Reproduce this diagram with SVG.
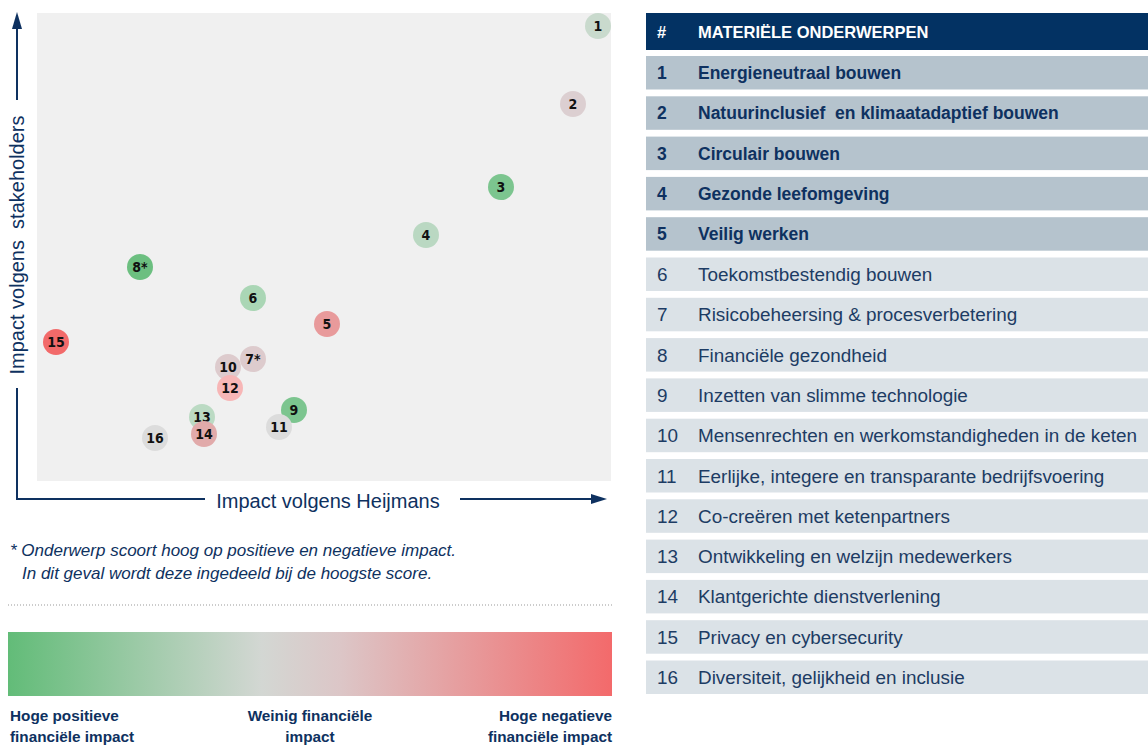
<svg xmlns="http://www.w3.org/2000/svg" width="1148" height="745" viewBox="0 0 1148 745">
<defs>
<linearGradient id="fin" x1="0" y1="0" x2="1" y2="0">
<stop offset="0" stop-color="#62bc78"/>
<stop offset="0.42" stop-color="#d3d7d3"/>
<stop offset="0.55" stop-color="#dcc6c7"/>
<stop offset="1" stop-color="#f36a6b"/>
</linearGradient>
</defs>
<style>
.ax{stroke:#0e3160;stroke-width:2;fill:none}
.ah{fill:#0e3160}
.axt{font-family:"Liberation Sans",Arial,sans-serif;font-size:20px;fill:#0e3160}
.bl{font-family:"DejaVu Sans Condensed","Liberation Sans",sans-serif;font-weight:bold;font-size:14px;fill:#111;text-anchor:middle}
.note{font-family:"Liberation Sans",Arial,sans-serif;font-style:italic;font-size:17px;fill:#0e3160}
.leg{font-family:"Liberation Sans",Arial,sans-serif;font-weight:bold;font-size:15.3px;fill:#0e3160}
.hd{fill:#033263}
.hdt{font-family:"Liberation Sans",Arial,sans-serif;font-weight:bold;font-size:16.5px;fill:#ffffff}
.rb{fill:#b5c3cd}
.rl{fill:#dbe2e7}
.tb{font-family:"Liberation Sans",Arial,sans-serif;font-weight:bold;font-size:17.5px;fill:#0e3160}
.tl{font-family:"Liberation Sans",Arial,sans-serif;font-size:18.9px;fill:#1d3c64}
</style>
<rect x="37" y="13" width="574" height="468" fill="#f0f0f0"/>
<g id="connectors">
<line class="ax" x1="17" y1="100" x2="17" y2="26"/>
<path class="ah" d="M17,12 L22,29 L12,29 z"/>
<polyline class="ax" points="17,388 17,499 205,499"/>
<line class="ax" x1="460" y1="499" x2="594" y2="499"/>
<path class="ah" d="M607,499 L591,504 L591,494 z"/>
</g>
<text class="axt" transform="translate(24,245) rotate(-90)" text-anchor="middle" xml:space="preserve">Impact volgens  stakeholders</text>
<text class="axt" x="328" y="508" text-anchor="middle">Impact volgens Heijmans</text>
<g id="n1"><circle cx="598" cy="26" r="13" fill="#c9dacd"/><text class="bl" x="598" y="31">1</text></g>
<g id="n2"><circle cx="573" cy="104" r="13" fill="#dccfd1"/><text class="bl" x="573" y="109">2</text></g>
<g id="n3"><circle cx="501" cy="187" r="13" fill="#7cc58f"/><text class="bl" x="501" y="192">3</text></g>
<g id="n4"><circle cx="426" cy="235" r="13" fill="#bad8c2"/><text class="bl" x="426" y="240">4</text></g>
<g id="n8"><circle cx="140" cy="267" r="13" fill="#6cbf80"/><text class="bl" x="140" y="272">8*</text></g>
<g id="n6"><circle cx="253" cy="298" r="13" fill="#aad6b5"/><text class="bl" x="253" y="303">6</text></g>
<g id="n5"><circle cx="327" cy="324" r="13" fill="#e89a9b"/><text class="bl" x="327" y="329">5</text></g>
<g id="n15"><circle cx="56" cy="342" r="13" fill="#f26a6a"/><text class="bl" x="56" y="347">15</text></g>
<g id="n7"><circle cx="253" cy="359" r="13" fill="#ddcbcd"/><text class="bl" x="253" y="364">7*</text></g>
<g id="n10"><circle cx="228" cy="367" r="13" fill="#ddcbcd"/><text class="bl" x="228" y="372">10</text></g>
<g id="n12"><circle cx="230" cy="388" r="13" fill="#f7b6b6"/><text class="bl" x="230" y="393">12</text></g>
<g id="n13"><circle cx="202" cy="417" r="13" fill="#bbdac3"/><text class="bl" x="202" y="422">13</text></g>
<g id="n9"><circle cx="294" cy="410" r="13" fill="#7cc58f"/><text class="bl" x="294" y="415">9</text></g>
<g id="n14"><circle cx="204" cy="434" r="13" fill="#e1aaaa"/><text class="bl" x="204" y="439">14</text></g>
<g id="n11"><circle cx="279" cy="427" r="13" fill="#dcdcdc"/><text class="bl" x="279" y="432">11</text></g>
<g id="n16"><circle cx="155" cy="438" r="13" fill="#dcdcdc"/><text class="bl" x="155" y="443">16</text></g>
<text class="note" x="10" y="556">* Onderwerp scoort hoog op positieve en negatieve impact.</text>
<text class="note" x="22" y="579">In dit geval wordt deze ingedeeld bij de hoogste score.</text>
<line x1="8" y1="605" x2="612" y2="605" stroke="#999" stroke-width="1" stroke-dasharray="1,2"/>
<rect x="8" y="632" width="604" height="64" fill="url(#fin)"/>
<text class="leg" x="10" y="721">Hoge positieve</text>
<text class="leg" x="10" y="742">financiële impact</text>
<text class="leg" x="310" y="721" text-anchor="middle">Weinig financiële</text>
<text class="leg" x="310" y="742" text-anchor="middle">impact</text>
<text class="leg" x="612" y="721" text-anchor="end">Hoge negatieve</text>
<text class="leg" x="612" y="742" text-anchor="end">financiële impact</text>
<g id="table">
<rect class="hd" x="646" y="13" width="502" height="37"/>
<text class="hdt" x="657" y="38">#</text>
<text class="hdt" x="698" y="38">MATERIËLE ONDERWERPEN</text>
<rect class="rb" x="646" y="56" width="502" height="33.5"/><text class="tb" x="657" y="79">1</text><text class="tb" x="698" y="79">Energieneutraal bouwen</text>
<rect class="rb" x="646" y="96.3" width="502" height="33.5"/><text class="tb" x="657" y="119.3">2</text><text class="tb" x="698" y="119.3" xml:space="preserve">Natuurinclusief  en klimaatadaptief bouwen</text>
<rect class="rb" x="646" y="136.6" width="502" height="33.5"/><text class="tb" x="657" y="159.6">3</text><text class="tb" x="698" y="159.6">Circulair bouwen</text>
<rect class="rb" x="646" y="176.9" width="502" height="33.5"/><text class="tb" x="657" y="199.9">4</text><text class="tb" x="698" y="199.9">Gezonde leefomgeving</text>
<rect class="rb" x="646" y="217.2" width="502" height="33.5"/><text class="tb" x="657" y="240.2">5</text><text class="tb" x="698" y="240.2">Veilig werken</text>
<rect class="rl" x="646" y="257.5" width="502" height="33.5"/><text class="tl" x="657" y="281">6</text><text class="tl" x="698" y="281">Toekomstbestendig bouwen</text>
<rect class="rl" x="646" y="297.8" width="502" height="33.5"/><text class="tl" x="657" y="321.3">7</text><text class="tl" x="698" y="321.3">Risicobeheersing &amp; procesverbetering</text>
<rect class="rl" x="646" y="338.1" width="502" height="33.5"/><text class="tl" x="657" y="361.6">8</text><text class="tl" x="698" y="361.6">Financiële gezondheid</text>
<rect class="rl" x="646" y="378.4" width="502" height="33.5"/><text class="tl" x="657" y="401.9">9</text><text class="tl" x="698" y="401.9">Inzetten van slimme technologie</text>
<rect class="rl" x="646" y="418.7" width="502" height="33.5"/><text class="tl" x="657" y="442.2">10</text><text class="tl" x="698" y="442.2">Mensenrechten en werkomstandigheden in de keten</text>
<rect class="rl" x="646" y="459" width="502" height="33.5"/><text class="tl" x="657" y="482.5">11</text><text class="tl" x="698" y="482.5">Eerlijke, integere en transparante bedrijfsvoering</text>
<rect class="rl" x="646" y="499.3" width="502" height="33.5"/><text class="tl" x="657" y="522.8">12</text><text class="tl" x="698" y="522.8">Co-creëren met ketenpartners</text>
<rect class="rl" x="646" y="539.6" width="502" height="33.5"/><text class="tl" x="657" y="563.1">13</text><text class="tl" x="698" y="563.1">Ontwikkeling en welzijn medewerkers</text>
<rect class="rl" x="646" y="579.9" width="502" height="33.5"/><text class="tl" x="657" y="603.4">14</text><text class="tl" x="698" y="603.4">Klantgerichte dienstverlening</text>
<rect class="rl" x="646" y="620.2" width="502" height="33.5"/><text class="tl" x="657" y="643.7">15</text><text class="tl" x="698" y="643.7">Privacy en cybersecurity</text>
<rect class="rl" x="646" y="660.5" width="502" height="33.5"/><text class="tl" x="657" y="684">16</text><text class="tl" x="698" y="684">Diversiteit, gelijkheid en inclusie</text>
</g>
</svg>
